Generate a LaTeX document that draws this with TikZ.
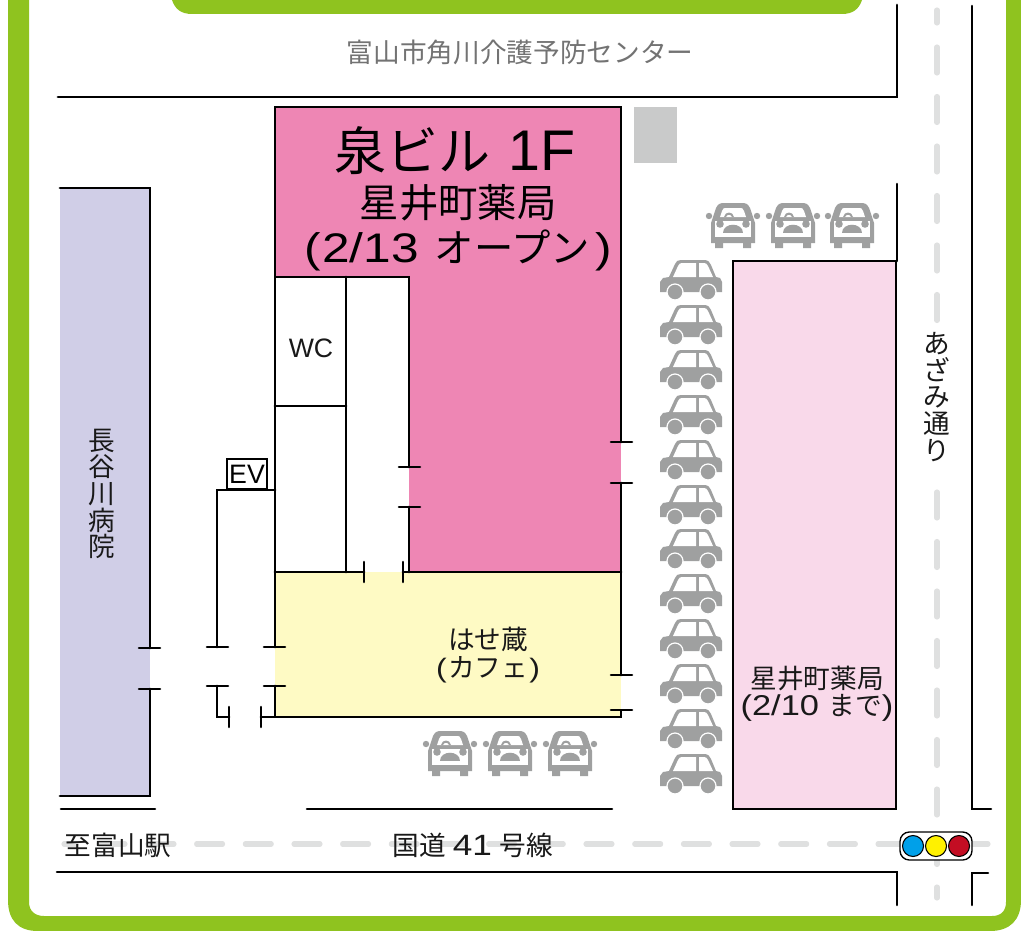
\documentclass[tikz,border=0pt]{standalone}
\usepackage{fontspec}
\setmainfont{Liberation Sans}
\newfontfamily\jp{Noto Sans CJK JP}
\newfontfamily\lat[FakeStretch=1.2]{Liberation Sans}
\newfontfamily\latn{Liberation Sans}
\definecolor{frameg}{HTML}{8FC31F}
\definecolor{pinkA}{HTML}{EE86B4}
\definecolor{pinkB}{HTML}{F9D9EA}
\definecolor{lav}{HTML}{D0CEE7}
\definecolor{cream}{HTML}{FEFAC4}
\definecolor{cargray}{HTML}{9FA0A0}
\definecolor{roadg}{HTML}{DFE0E0}
\definecolor{lotg}{HTML}{C9CACA}
\definecolor{tblue}{HTML}{00A0E9}
\definecolor{tyellow}{HTML}{FFF100}
\definecolor{tred}{HTML}{C30D23}
\newcommand{\fs}[1]{\fontsize{#1}{#1}\selectfont}
\tikzset{
  x=0.75pt,y=-0.75pt,
  wall/.style={draw=black,line width=2.15pt,line cap=round,line join=miter},
  thinw/.style={draw=black,line width=1.9pt,line cap=round},
  door/.style={draw=black,line width=1.9pt,line cap=round},
  dash road/.style={draw=roadg,line width=3.8pt,line cap=round},
  lbl/.style={inner sep=0pt,font=\jp\fs{20},align=center,text=black!90},
  carside/.pic={
    \fill[cargray] (-30,12) -- (-30,2) -- (-27,-2) -- (-21,-3) -- (-15,-16) .. controls (-14,-19) and (-12,-20) .. (-9,-20) -- (14,-20) .. controls (18,-20) and (20,-18) .. (21,-15) -- (26,-3) -- (30,-2) -- (32,2) -- (32,12) -- cycle;
    \fill[white] (-17,-3) -- (-12,-14) .. controls (-11,-16) and (-10,-17) .. (-8,-17) -- (6,-17) -- (6,-3) -- cycle;
    \fill[white] (9,-3) -- (9,-17) -- (14,-17) .. controls (16,-17) and (17,-16) .. (18,-14) -- (23,-3) -- cycle;
    \fill[cargray,draw=white,line width=0.9pt] (-15,12) circle (8);
    \fill[cargray,draw=white,line width=0.9pt] (18,12) circle (8);
  },
  carfront/.pic={
    \fill[cargray] (-18,23) rectangle (-10,15) (10,23) rectangle (18,15);
    \fill[cargray] (-22,-2) -- (-22,18) -- (22,18) -- (22,-2) -- (17,-17) .. controls (15,-21) and (13,-22) .. (9,-22) -- (-9,-22) .. controls (-13,-22) and (-15,-21) .. (-17,-17) -- cycle;
    \fill[cargray] (-24,-9) circle (3.2) (24,-9) circle (3.2);
    \fill[white] (-13,-8) -- (-11,-14) .. controls (-10,-17) and (-9,-17) .. (-7,-17) -- (7,-17) .. controls (9,-17) and (10,-17) .. (11,-14) -- (13,-8) -- cycle;
    \fill[cargray] (-9,-8) .. controls (-8,-14) and (0,-14) .. (1,-8) -- (-1,-8) .. controls (-2,-11) and (-6,-11) .. (-7,-8) -- cycle;
    \fill[white] (-18,-4) -- (18,-4) -- (18,12) -- (-18,12) -- cycle;
    \fill[cargray] (-13,-1) circle (3.8) (13,-1) circle (3.8);
    \fill[cargray] (-10,8) .. controls (-10,-3) and (10,-3) .. (10,8) -- cycle;
  },
}
\begin{document}
\begin{tikzpicture}
\useasboundingbox (0,0) rectangle (1021,931);
% frame
\fill[white] (0,0) rectangle (1021,931);
\fill[frameg] (8,0) -- (8,900) .. controls (8,920) and (18,931) .. (38,931) -- (990,931) .. controls (1010,931) and (1021,920) .. (1021,900) -- (1021,0) -- (1006,0) -- (1006,902) .. controls (1006,911) and (1001,916) .. (992,916) -- (44,916) .. controls (35,916) and (29,911) .. (29,902) -- (29,0) -- cycle;
\fill[frameg] (172,0) .. controls (175,9) and (181,14) .. (192,14) -- (842,14) .. controls (853,14) and (859,9) .. (862,0) -- cycle;
% buildings
\fill[lav] (60,188) rectangle (150,796);
\fill[pinkA] (275,107) rectangle (621,572);
\fill[white] (275,277) rectangle (409,572);
\fill[cream] (275,572) rectangle (621,717);
\fill[pinkB] (733,261) rectangle (896,809);
\fill[lotg] (634,107) rectangle (677,163);
% road dashes
\draw[dash road] (937,10) -- (937,23);
\draw[dash road] (937,887) -- (937,898);
\foreach \y in {60,109.5,159,208.5,258,307.5,505,554.5,604,653.5,703,752.5,802,851.5}
  \draw[dash road] (937,\y-13) -- (937,\y+13);
\foreach \x in {112,161,209.6,258.3,307,355.6,404.3,453,501.6,550.3,599,647.7,696.4,745,793.7,842.4,891}
  \draw[dash road] (\x-13,844) -- (\x+13,844);
\draw[dash road] (64,844) -- (76,844);
\draw[dash road] (972,844) -- (988,844);
% walls
\draw[wall] (58,97) -- (897,97) -- (897,5);
\draw[thinw] (972,6) -- (972,809) -- (991,809);
\draw[thinw] (897,184) -- (897,261);
\draw[wall] (60,188) -- (150,188) -- (150,648);
\draw[wall] (150,689) -- (150,796) -- (60,796);
\draw[thinw] (61,809) -- (155,809);
\draw[thinw] (307,809) -- (612,809);
\draw[wall] (275,277) -- (275,107) -- (621,107) -- (621,442);
\draw[wall] (621,483) -- (621,675);
\draw[wall] (621,711) -- (621,717) -- (275,717) -- (275,686);
\draw[wall] (275,647) -- (275,277) -- (409,277) -- (409,467);
\draw[wall] (409,507) -- (409,572);
\draw[wall] (621,572) -- (403,572);
\draw[wall] (275,572) -- (364,572);
\draw[wall] (346,277) -- (346,572);
\draw[wall] (275,406) -- (346,406);
\draw[wall] (217,647) -- (217,490) -- (275,490);
\draw[wall] (217,686) -- (217,717) -- (229,717);
\draw[wall] (261,717) -- (275,717);
\draw[wall] (733,261) rectangle (896,809);
% doors
\draw[door] (139,648) -- (160,648);
\draw[door] (139,689) -- (160,689);
\draw[door] (207,647) -- (228,647);
\draw[door] (207,686) -- (228,686);
\draw[door] (264,647) -- (285,647);
\draw[door] (264,686) -- (285,686);
\draw[door] (229,707) -- (229,727);
\draw[door] (261,707) -- (261,727);
\draw[door] (364,562) -- (364,582);
\draw[door] (403,562) -- (403,582);
\draw[door] (399,467) -- (420,467);
\draw[door] (399,507) -- (420,507);
\draw[door] (611,442) -- (632,442);
\draw[door] (611,483) -- (632,483);
\draw[door] (611,675) -- (632,675);
\draw[door] (611,710) -- (632,710);
\node[draw=black,line width=1.6pt,inner sep=0pt,minimum height=22.5pt,minimum width=30pt] (ev) at (247,474) {\latn\fs{20}EV};
% road corners
\draw[thinw] (57,872) -- (897,872) -- (897,905);
\draw[thinw] (988,873) -- (972,873) -- (972,905);
% traffic light
\node[draw=black,line width=1pt,fill=white,rounded corners=7pt,minimum width=54pt,minimum height=21pt,inner sep=0pt] (tl) at (936,846) {};
\filldraw[draw=black,line width=0.8pt,fill=tblue] (913,846) circle (10.5);
\filldraw[draw=black,line width=0.8pt,fill=tyellow] (936,846) circle (10.5);
\filldraw[draw=black,line width=0.8pt,fill=tred] (959,846) circle (10.5);
% cars
\foreach \y in {280,325,370,415,460,505,549,594,639,684,729,774}
  \pic at (690,\y) {carside};
\foreach \x in {733,793,852} \pic at (\x,225) {carfront};
\foreach \x in {450,510,570} \pic at (\x,753) {carfront};
% labels
\node[lbl,text=black!55] (center) at (520,52) {富山市角川介護予防センター};
\node[lbl,text=black] (izumi) at (455,151) {\fs{39}泉ビル\hspace{14pt}{\latn\fs{43}1F}};
\node[lbl,text=black] (hoshi) at (458,203) {\fs{29.5}星井町薬局};
\node[lbl,text=black] (open) at (458,250) {{\lat\fs{31}(\hspace{1pt}2/13\hspace{12pt}}\fs{29.5}オープン\hspace{4pt}{\lat\fs{31})}};
\node[lbl] (wc) at (311,348) {\latn\fs{20}WC};
\node[lbl] (hase) at (488,639) {はせ蔵};
\node[lbl] (cafe) at (488,670) {{\lat\fs{20}(}\hspace{1pt}カフェ\hspace{1pt}{\lat\fs{20})}};
\node[lbl] (h2) at (817,678) {星井町薬局};
\node[lbl] (h3) at (817,708) {{\lat\fs{21.5}(2/10 }まで{\lat\fs{21.5})}};
\node[lbl] (st) at (118,845) {至富山駅};
\node[lbl] (kokudo) at (473,845) {国道\hspace{5pt}{\lat\fs{22}41}\hspace{6pt}号線};
\node[lbl] (aza) at (937,397) {あ\\ざ\\み\\通\\り};
\node[lbl] (hase2) at (102,494) {長\\谷\\川\\病\\院};
\end{tikzpicture}
\end{document}
